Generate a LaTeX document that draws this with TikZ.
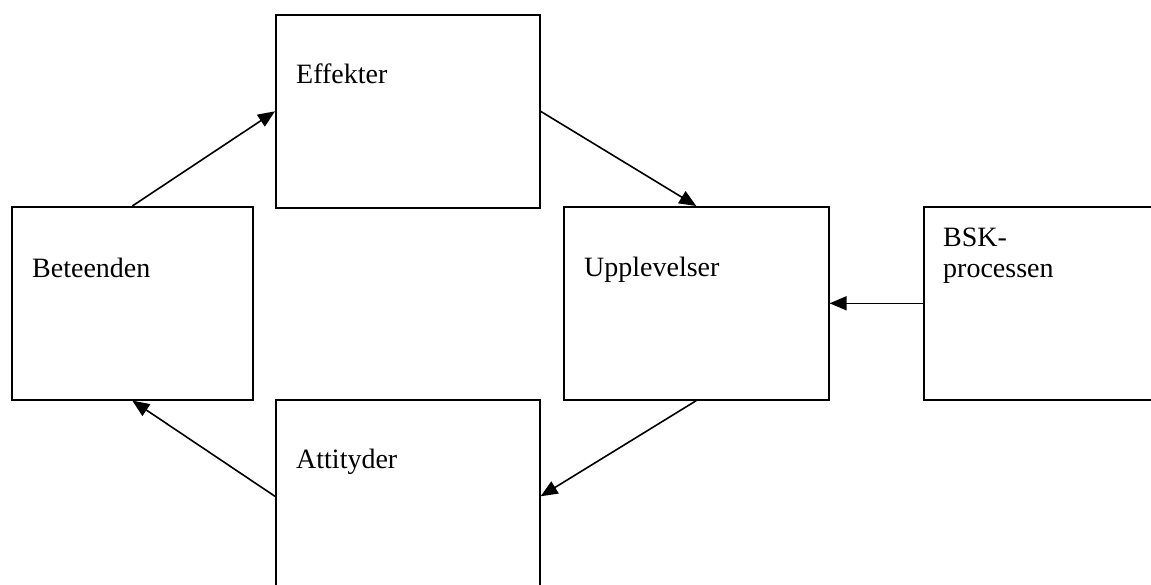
\documentclass[tikz,border=0pt]{standalone}
\usepackage{fontspec}
\setmainfont{Liberation Serif}
\usetikzlibrary{arrows.meta,positioning,calc}
\begin{document}
\begin{tikzpicture}[x=1pt,y=-1pt,
  box/.style={draw=black,line width=1.6pt,rectangle,minimum width=264pt,minimum height=193pt,inner sep=0pt,anchor=north west},
  lbl/.style={anchor=base west,inner sep=0pt,font=\fontsize{28}{31}\selectfont,align=left},
  conn/.style={line width=1.6pt,-{Triangle[length=17pt,width=14pt]}}]
\useasboundingbox (0,0) rectangle (1151,584);
\fill[white] (0,0) rectangle (1151,584);
\clip (0,0) rectangle (1151,584);
\node[box,minimum width=241pt] (bet) at (11,206) {};
\node[box] (eff) at (275,14) {};
\node[box,minimum width=265pt] (upp) at (563,206) {};
\node[box,minimum width=265pt] (bsk) at (923,206) {};
\node[box] (att) at (275,399) {};
\node[lbl] (tbet) at (32,277) {Beteenden};
\node[lbl] (teff) at (296,83) {Effekter};
\node[lbl] (tupp) at (584,276) {Upplevelser};
\node[lbl] (tbsk) at (943,277) {BSK-\\processen};
\node[lbl] (tatt) at (296,468) {Attityder};
\draw[conn] (bet.north) -- (eff.west);
\draw[conn] (eff.east) -- (upp.north);
\draw[conn] (bsk.west) -- (upp.east);
\draw[conn] (upp.south) -- (att.east);
\draw[conn] (att.west) -- (bet.south);
\end{tikzpicture}
\end{document}
